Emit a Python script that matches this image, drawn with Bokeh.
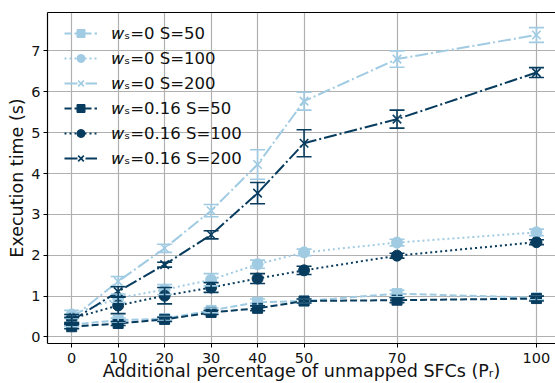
from bokeh.plotting import figure
from bokeh.models import (ColumnDataSource, Whisker, TeeHead, FixedTicker, Legend,
                          LegendItem, LinearAxis, Range1d)
from bokeh.embed import file_html
from bokeh.resources import INLINE

# Percentage of additional unmapped SFCs
pr = [0, 10, 20, 30, 40, 50, 70, 100]
x_ticks = [0, 10, 20, 30, 40, 50, 70, 100]
y_ticks = [0, 1, 2, 3, 4, 5, 6, 7]

# Mean execution time (s) and error half-width for each configuration
w0_s50 = [0.30, 0.41, 0.45, 0.65, 0.85, 0.88, 1.06, 0.96]
w0_s50_err = [0.05, 0.05, 0.05, 0.06, 0.08, 0.05, 0.08, 0.05]
w0_s100 = [0.55, 0.95, 1.16, 1.40, 1.78, 2.07, 2.31, 2.56]
w0_s100_err = [0.10, 0.10, 0.12, 0.15, 0.10, 0.08, 0.08, 0.08]
w0_s200 = [0.45, 1.36, 2.17, 3.09, 4.22, 5.77, 6.80, 7.39]
w0_s200_err = [0.10, 0.12, 0.10, 0.15, 0.36, 0.22, 0.20, 0.18]
w16_s50 = [0.25, 0.33, 0.43, 0.60, 0.70, 0.88, 0.90, 0.94]
w16_s50_err = [0.05, 0.05, 0.05, 0.05, 0.06, 0.05, 0.06, 0.06]
w16_s100 = [0.45, 0.77, 1.01, 1.21, 1.43, 1.63, 1.99, 2.32]
w16_s100_err = [0.10, 0.20, 0.20, 0.12, 0.12, 0.10, 0.06, 0.06]
w16_s200 = [0.40, 1.11, 1.77, 2.50, 3.52, 4.74, 5.33, 6.47]
w16_s200_err = [0.08, 0.12, 0.06, 0.10, 0.26, 0.33, 0.22, 0.12]

LIGHT = "#a0cbe2"
DARK = "#083c5e"
FONT = "DejaVu Sans"

series = [
    ("\U0001D464\u209B=0 S=50", w0_s50, w0_s50_err, LIGHT, "square", "7 3", 10),
    ("\U0001D464\u209B=0 S=100", w0_s100, w0_s100_err, LIGHT, "circle", "2 3", 11),
    ("\U0001D464\u209B=0 S=200", w0_s200, w0_s200_err, LIGHT, "x", "13 3 2 3", 12),
    ("\U0001D464\u209B=0.16 S=50", w16_s50, w16_s50_err, DARK, "square", "7 3", 10),
    ("\U0001D464\u209B=0.16 S=100", w16_s100, w16_s100_err, DARK, "circle", "2 3", 11),
    ("\U0001D464\u209B=0.16 S=200", w16_s200, w16_s200_err, DARK, "x", "13 3 2 3", 12),
]

p = figure(width=555, height=383, output_backend="svg", toolbar_location=None,
           x_range=Range1d(-5.2, 104.1), y_range=Range1d(-0.16, 7.94))
p.min_border_left = 47
p.min_border_right = 0
p.min_border_top = 12
p.min_border_bottom = 39
p.outline_line_color = None
p.background_fill_color = "white"
p.border_fill_color = "white"

items = []
for label, ys, errs, color, marker, dash, size in series:
    src = ColumnDataSource(dict(
        x=pr, y=ys,
        lo=[v - e for v, e in zip(ys, errs)],
        hi=[v + e for v, e in zip(ys, errs)],
    ))
    line = p.line("x", "y", source=src, line_color=color, line_width=2, line_dash=dash)
    w = Whisker(base="x", lower="lo", upper="hi", source=src, dimension="height",
                line_color=color, line_width=1.6, level="glyph",
                lower_head=TeeHead(size=15, line_color=color, line_width=1.6),
                upper_head=TeeHead(size=15, line_color=color, line_width=1.6))
    p.add_layout(w)
    if marker == "x":
        pts = p.scatter("x", "y", source=src, marker="x", size=size, line_color=color,
                        line_width=1.6)
    else:
        pts = p.scatter("x", "y", source=src, marker=marker, size=size, fill_color=color,
                        line_color=color)
    items.append(LegendItem(label=label, renderers=[line, pts]))

legend = Legend(items=items, location=(17, 175), border_line_color=None,
                background_fill_alpha=0, glyph_width=33, glyph_height=20,
                label_height=20, spacing=5, padding=5, margin=0, label_standoff=15,
                label_text_font=FONT, label_text_font_size="16.5px",
                label_text_color="#111111")
p.add_layout(legend, "center")

# axes
for ax in (p.xaxis[0], p.yaxis[0]):
    ax.axis_line_color = "black"
    ax.axis_line_width = 1.2
    ax.major_tick_line_color = "black"
    ax.major_tick_line_width = 1
    ax.major_tick_out = 4
    ax.major_tick_in = 0
    ax.minor_tick_line_color = None
    ax.major_label_text_font = FONT
    ax.major_label_text_font_size = "14.5px"
    ax.major_label_text_color = "#111111"
    ax.axis_label_text_font = FONT
    ax.axis_label_text_font_size = "17.5px"
    ax.axis_label_text_font_style = "normal"
    ax.axis_label_text_color = "#111111"

p.xaxis.ticker = FixedTicker(ticks=x_ticks)
p.yaxis.ticker = FixedTicker(ticks=y_ticks)
p.xaxis.axis_label = "Additional percentage of unmapped SFCs (P\u1D63)"
p.yaxis.axis_label = "Execution time (s)"
p.xaxis.major_label_standoff = 5
p.yaxis.major_label_standoff = 3
p.xaxis.axis_label_standoff = -5
p.yaxis.axis_label_standoff = 1

# top spine
top = LinearAxis(ticker=FixedTicker(ticks=[]), axis_line_color="black",
                 axis_line_width=1.2, major_tick_line_color=None,
                 minor_tick_line_color=None, major_label_text_font_size="0px")
p.add_layout(top, "above")

p.grid.grid_line_color = "#b0b0b0"
p.grid.grid_line_width = 1.2
p.xgrid.ticker = FixedTicker(ticks=x_ticks)
p.ygrid.ticker = FixedTicker(ticks=y_ticks)

open("out.html", "w").write(file_html(p, INLINE))
